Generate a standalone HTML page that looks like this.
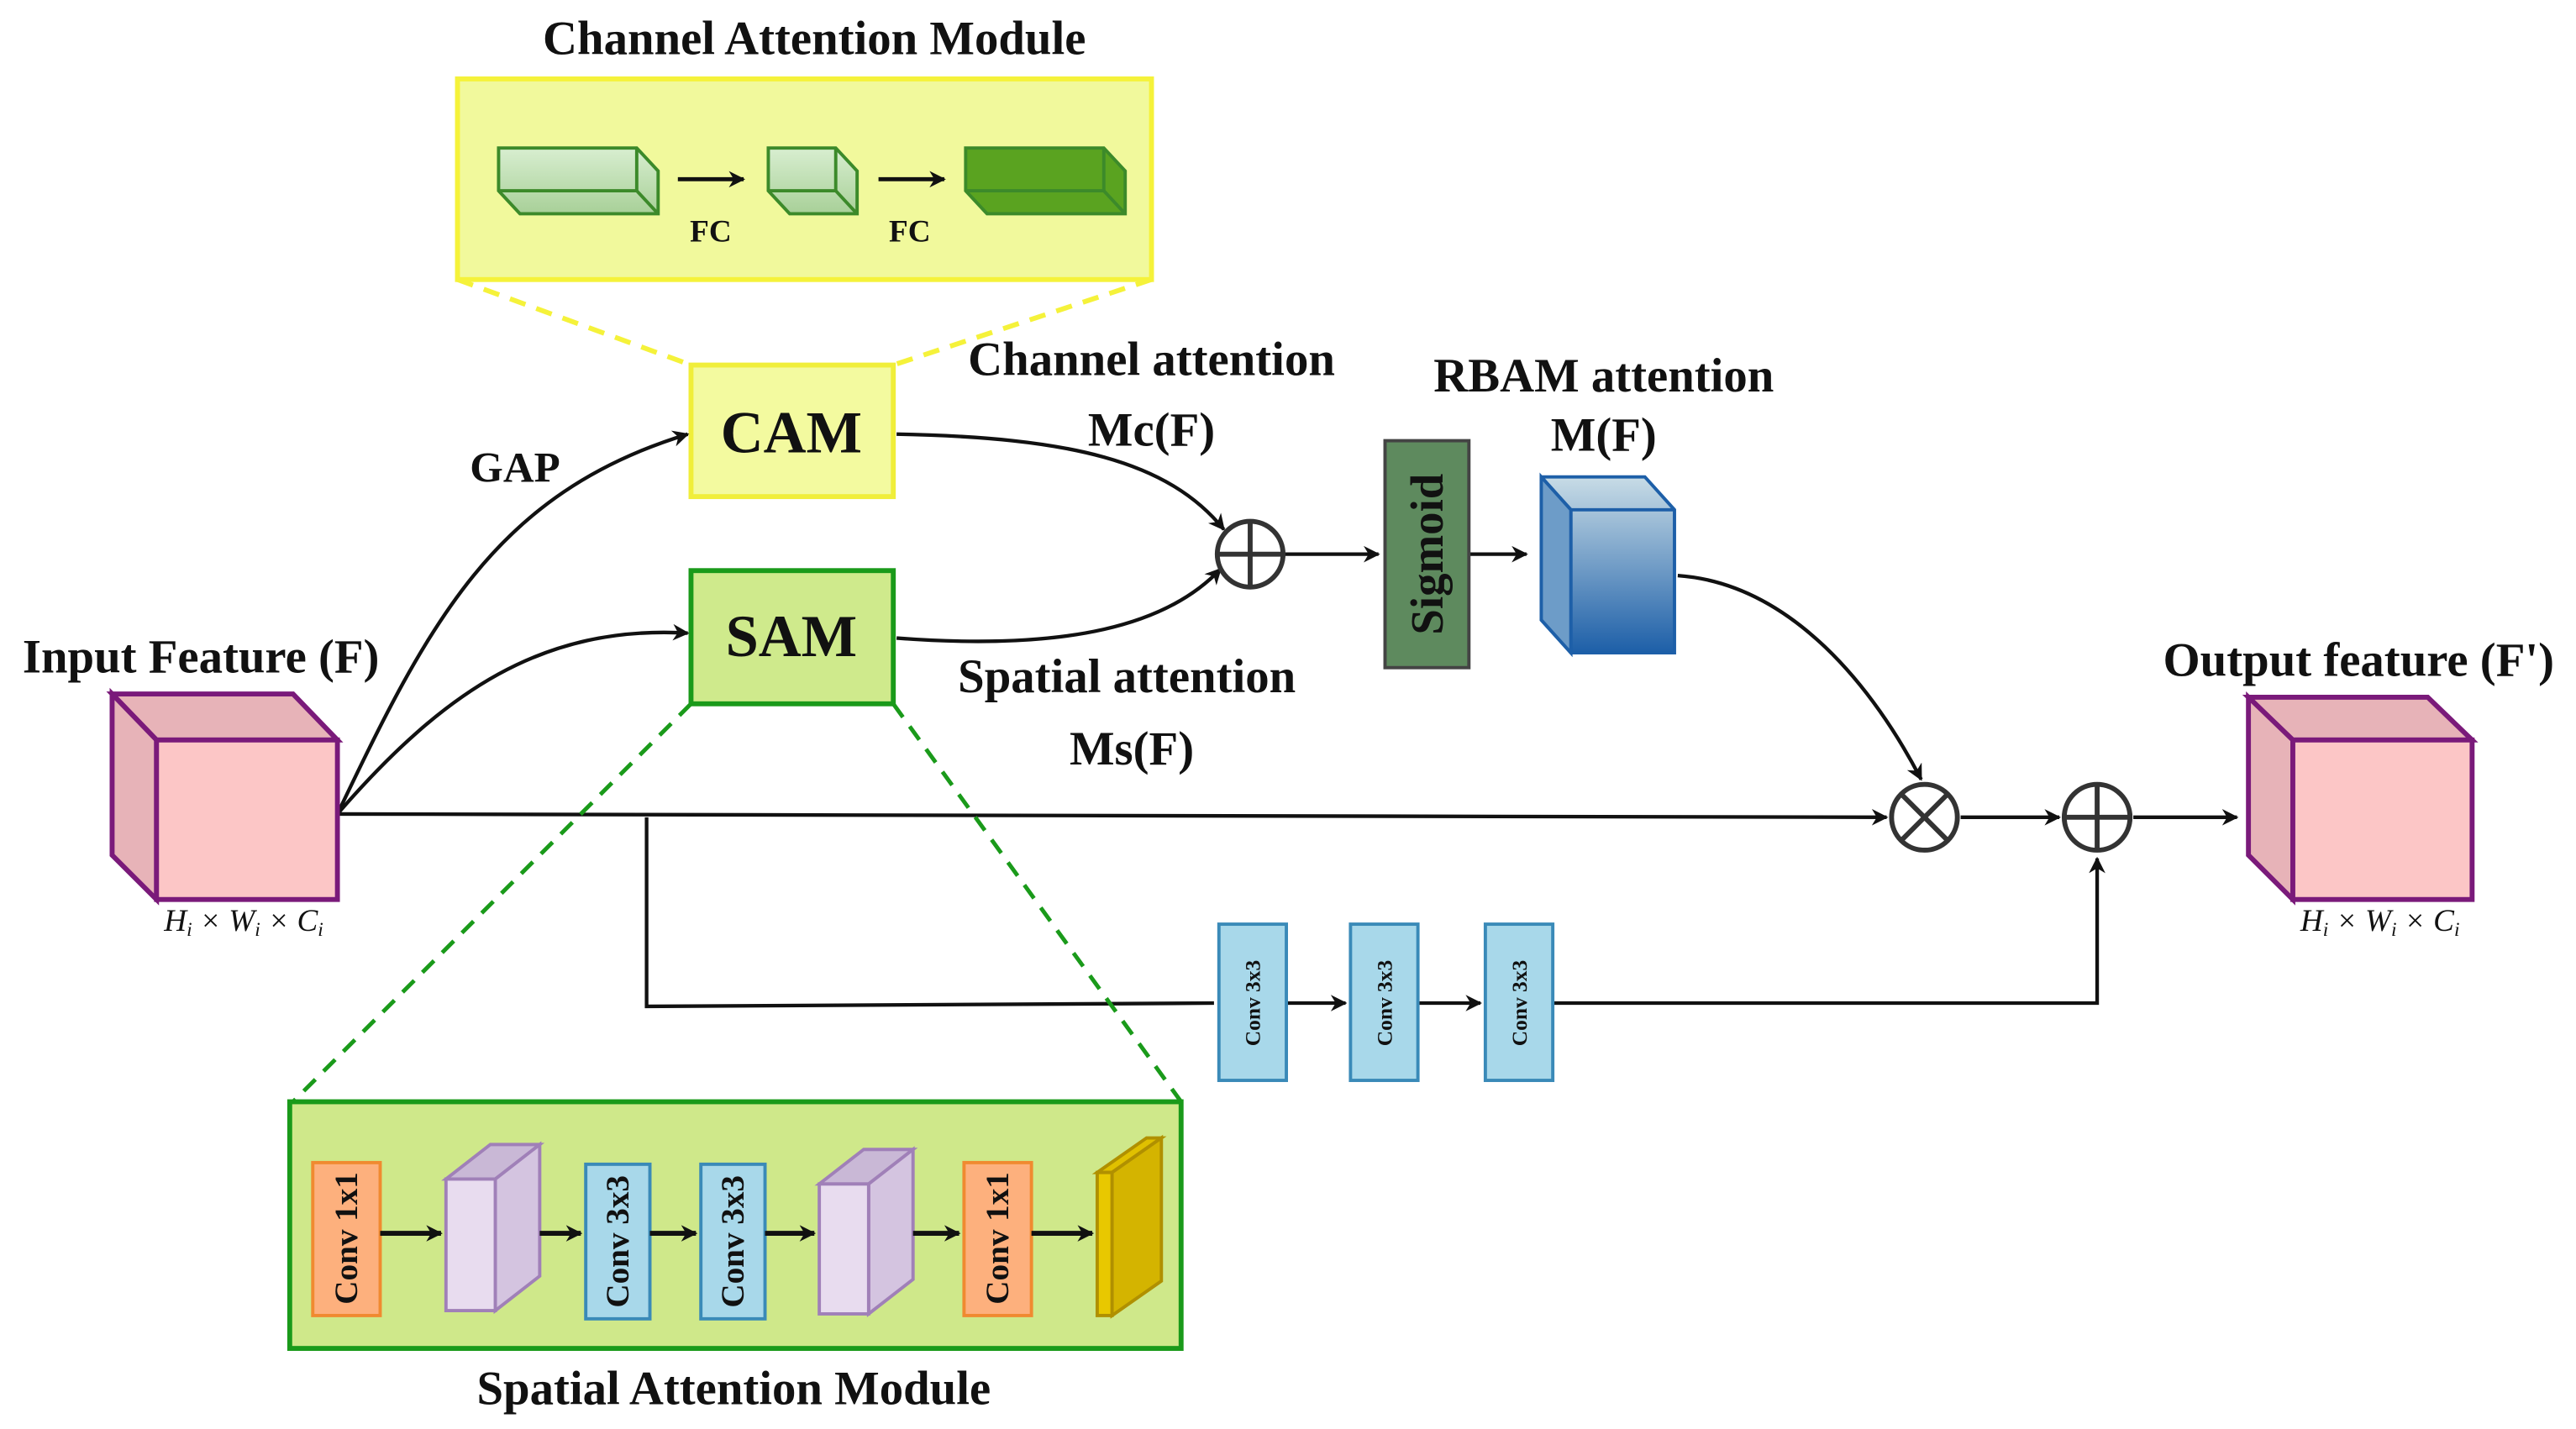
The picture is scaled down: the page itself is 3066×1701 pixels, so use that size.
<!DOCTYPE html>
<html><head><meta charset="utf-8"><style>
html,body{margin:0;padding:0;background:#fff;}
svg{display:block;}
text{font-family:"Liberation Serif",serif;font-weight:bold;fill:#111;}
text.it{font-weight:normal;font-style:italic;}
</style></head><body>
<svg width="3066" height="1701" viewBox="0 0 1566 869" xmlns="http://www.w3.org/2000/svg">
<defs>
<marker id="a" markerWidth="10" markerHeight="10" refX="9" refY="5" orient="auto" markerUnits="userSpaceOnUse" viewBox="0 0 10 10"><path d="M0,0 L10,5 L0,10 L3,5 z" fill="#111"/></marker>
<linearGradient id="bg" x1="0" y1="0" x2="0" y2="1"><stop offset="0" stop-color="#c8dce6"/><stop offset="1" stop-color="#1d5fa8"/></linearGradient>
<linearGradient id="gg" x1="0" y1="0" x2="0" y2="1"><stop offset="0" stop-color="#d8eed0"/><stop offset="1" stop-color="#a8d098"/></linearGradient>
</defs>
<!-- CAM module -->
<text x="495" y="33" font-size="29" text-anchor="middle">Channel  Attention Module</text>
<rect x="278" y="48" width="422" height="122" fill="#f1f99c" stroke="#f5f23a" stroke-width="3"/>
<g stroke="#3c8a2a" stroke-width="2">
<polygon points="303,90 387,90 400,104 400,130 316,130 303,116" fill="url(#gg)"/>
<polyline points="303,116 387,116 387,90" fill="none"/>
<line x1="387" y1="116" x2="400" y2="130"/>
<polygon points="467,90 508,90 521,104 521,130 480,130 467,116" fill="url(#gg)"/>
<polyline points="467,116 508,116 508,90" fill="none"/><line x1="508" y1="116" x2="521" y2="130"/>
<polygon points="587,90 671,90 684,104 684,130 600,130 587,116" fill="#5aa320"/>
<polyline points="587,116 671,116 671,90" fill="none"/><line x1="671" y1="116" x2="684" y2="130"/>
</g>
<line x1="412" y1="109" x2="452" y2="109" stroke="#111" stroke-width="2.5" marker-end="url(#a)"/>
<line x1="534" y1="109" x2="574" y2="109" stroke="#111" stroke-width="2.5" marker-end="url(#a)"/>
<text x="432" y="147" font-size="19" text-anchor="middle">FC</text>
<text x="553" y="147" font-size="19" text-anchor="middle">FC</text>
<line x1="278" y1="170" x2="420" y2="222" stroke="#f5f23a" stroke-width="3" stroke-dasharray="10,7"/>
<line x1="700" y1="170" x2="543" y2="222" stroke="#f5f23a" stroke-width="3" stroke-dasharray="10,7"/>
<!-- CAM / SAM -->
<rect x="420" y="222" width="123" height="80" fill="#f3fa9f" stroke="#f0ee3a" stroke-width="3"/>
<text x="481" y="275" font-size="36" text-anchor="middle">CAM</text>
<rect x="420" y="347" width="123" height="81" fill="#cfea8c" stroke="#1a9a1a" stroke-width="3"/>
<text x="481" y="399" font-size="36" text-anchor="middle">SAM</text>
<text x="313" y="293" font-size="26" text-anchor="middle">GAP</text>
<text x="700" y="228" font-size="29" text-anchor="middle">Channel attention</text>
<text x="700" y="271" font-size="29" text-anchor="middle">Mc(F)</text>
<text x="685" y="421" font-size="29" text-anchor="middle">Spatial attention</text>
<text x="688" y="465" font-size="29" text-anchor="middle">Ms(F)</text>
<!-- curves -->
<g fill="none" stroke="#111" stroke-width="2.2">
<path d="M205,495 C260,380 300,300 418,264" marker-end="url(#a)"/>
<path d="M205,495 C270,420 330,380 418,385" marker-end="url(#a)"/>
<path d="M545,264 C650,266 710,280 744,322" marker-end="url(#a)"/>
<path d="M545,388 C650,396 710,380 742,346" marker-end="url(#a)"/>
<line x1="781" y1="337" x2="838" y2="337" marker-end="url(#a)"/>
<line x1="893" y1="337" x2="928" y2="337" marker-end="url(#a)"/>
<path d="M1020,350 C1090,355 1140,420 1168,474" marker-end="url(#a)"/>
<line x1="205" y1="495" x2="1147" y2="497" marker-end="url(#a)"/>
<line x1="1192" y1="497" x2="1252" y2="497" marker-end="url(#a)"/>
<line x1="1297" y1="497" x2="1360" y2="497" marker-end="url(#a)"/>
<polyline points="393,497 393,612 738,610"/>
<line x1="782" y1="610" x2="818" y2="610" marker-end="url(#a)"/>
<line x1="862" y1="610" x2="900" y2="610" marker-end="url(#a)"/>
<polyline points="944,610 1275,610 1275,522" marker-end="url(#a)"/>
</g>
<!-- circles -->
<g fill="#fff" stroke="#333" stroke-width="3">
<circle cx="760" cy="337" r="20"/><line x1="740" y1="337" x2="780" y2="337"/><line x1="760" y1="317" x2="760" y2="357"/>
<circle cx="1170" cy="497" r="20"/><line x1="1156" y1="483" x2="1184" y2="511"/><line x1="1184" y1="483" x2="1156" y2="511"/>
<circle cx="1275" cy="497" r="20"/><line x1="1255" y1="497" x2="1295" y2="497"/><line x1="1275" y1="477" x2="1275" y2="517"/>
</g>
<!-- sigmoid -->
<rect x="842" y="268" width="51" height="138" fill="#5e8a5e" stroke="#444" stroke-width="2"/>
<text transform="translate(877,337) rotate(-90)" font-size="28" text-anchor="middle">Sigmoid</text>
<text x="975" y="238" font-size="29" text-anchor="middle">RBAM attention</text>
<text x="975" y="274" font-size="29" text-anchor="middle">M(F)</text>
<!-- blue cube -->
<g stroke="#1d5fa8" stroke-width="2">
<polygon points="937,290 1000,290 1018,310 1018,397 955,397 937,377" fill="url(#bg)"/>
<polyline points="937,290 955,310 1018,310" fill="none"/><line x1="955" y1="310" x2="955" y2="397"/>
<polygon points="937,290 955,310 955,397 937,377" fill="#6d9cc8"/>
</g>
<!-- input cube -->
<g stroke="#7a1a7a" stroke-width="3">
<polygon points="68,422 178,422 205,450 95,450" fill="#e7b3b8"/>
<polygon points="68,422 95,450 95,547 68,520" fill="#e7b3b8"/>
<rect x="95" y="450" width="110" height="97" fill="#fcc6c6"/>
</g>
<text x="122" y="409" font-size="29" text-anchor="middle">Input Feature (F)</text>
<text class="it" x="148" y="566" font-size="19" text-anchor="middle">H<tspan font-size="12" dy="3">i</tspan><tspan dy="-3"> × W</tspan><tspan font-size="12" dy="3">i</tspan><tspan dy="-3"> × C</tspan><tspan font-size="12" dy="3">i</tspan></text>
<!-- output cube -->
<g stroke="#7a1a7a" stroke-width="3">
<polygon points="1367,424 1476,424 1503,450 1394,450" fill="#e7b3b8"/>
<polygon points="1367,424 1394,450 1394,547 1367,520" fill="#e7b3b8"/>
<rect x="1394" y="450" width="109" height="97" fill="#fcc6c6"/>
</g>
<text x="1434" y="411" font-size="29" text-anchor="middle">Output feature (F')</text>
<text class="it" x="1447" y="566" font-size="19" text-anchor="middle">H<tspan font-size="12" dy="3">i</tspan><tspan dy="-3"> × W</tspan><tspan font-size="12" dy="3">i</tspan><tspan dy="-3"> × C</tspan><tspan font-size="12" dy="3">i</tspan></text>
<!-- conv 3x3 branch -->
<g fill="#a8d8ea" stroke="#3a8ab8" stroke-width="2">
<rect x="741" y="562" width="41" height="95"/><rect x="821" y="562" width="41" height="95"/><rect x="903" y="562" width="41" height="95"/>
</g>
<text transform="translate(766,610) rotate(-90)" font-size="13" text-anchor="middle">Conv 3x3</text>
<text transform="translate(846,610) rotate(-90)" font-size="13" text-anchor="middle">Conv 3x3</text>
<text transform="translate(928,610) rotate(-90)" font-size="13" text-anchor="middle">Conv 3x3</text>
<!-- SAM module -->
<line x1="420" y1="428" x2="178" y2="670" stroke="#1a9a1a" stroke-width="2.5" stroke-dasharray="10,7"/>
<line x1="543" y1="428" x2="718" y2="670" stroke="#1a9a1a" stroke-width="2.5" stroke-dasharray="10,7"/>
<rect x="176" y="670" width="542" height="150" fill="#cfe88a" stroke="#1a9a1a" stroke-width="3"/>
<g stroke-width="2">
<rect x="190" y="707" width="41" height="93" fill="#fdb07d" stroke="#f08a30"/>
<rect x="586" y="707" width="41" height="93" fill="#fdb07d" stroke="#f08a30"/>
<rect x="356" y="708" width="39" height="94" fill="#a8d8ea" stroke="#3a8ab8"/>
<rect x="426" y="708" width="39" height="94" fill="#a8d8ea" stroke="#3a8ab8"/>
<g stroke="#a080b8">
<polygon points="271,717 298,696 328,696 301,717" fill="#c9b8d6"/>
<polygon points="301,717 328,696 328,776 301,797" fill="#d4c4e0"/>
<rect x="271" y="717" width="30" height="80" fill="#e8dcef"/>
<polygon points="498,720 525,699 555,699 528,720" fill="#c9b8d6"/>
<polygon points="528,720 555,699 555,778 528,799" fill="#d4c4e0"/>
<rect x="498" y="720" width="30" height="79" fill="#e8dcef"/>
</g>
<g stroke="#b09000">
<polygon points="667,713 697,692 706,692 676,713" fill="#e0c000"/>
<polygon points="676,713 706,692 706,779 676,800" fill="#d4b400"/>
<rect x="667" y="713" width="9" height="87" fill="#e8c800"/>
</g>
</g>
<g stroke="#111" stroke-width="3">
<line x1="231" y1="750" x2="268" y2="750" marker-end="url(#a)"/>
<line x1="328" y1="750" x2="353" y2="750" marker-end="url(#a)"/>
<line x1="395" y1="750" x2="423" y2="750" marker-end="url(#a)"/>
<line x1="465" y1="750" x2="495" y2="750" marker-end="url(#a)"/>
<line x1="555" y1="750" x2="583" y2="750" marker-end="url(#a)"/>
<line x1="627" y1="750" x2="664" y2="750" marker-end="url(#a)"/>
</g>
<text transform="translate(217,753) rotate(-90)" font-size="20" text-anchor="middle">Conv 1x1</text>
<text transform="translate(613,753) rotate(-90)" font-size="20" text-anchor="middle">Conv 1x1</text>
<text transform="translate(382,755) rotate(-90)" font-size="20" text-anchor="middle">Conv 3x3</text>
<text transform="translate(452,755) rotate(-90)" font-size="20" text-anchor="middle">Conv 3x3</text>
<text x="446" y="854" font-size="29" text-anchor="middle">Spatial  Attention Module</text>
</svg>
</body></html>
